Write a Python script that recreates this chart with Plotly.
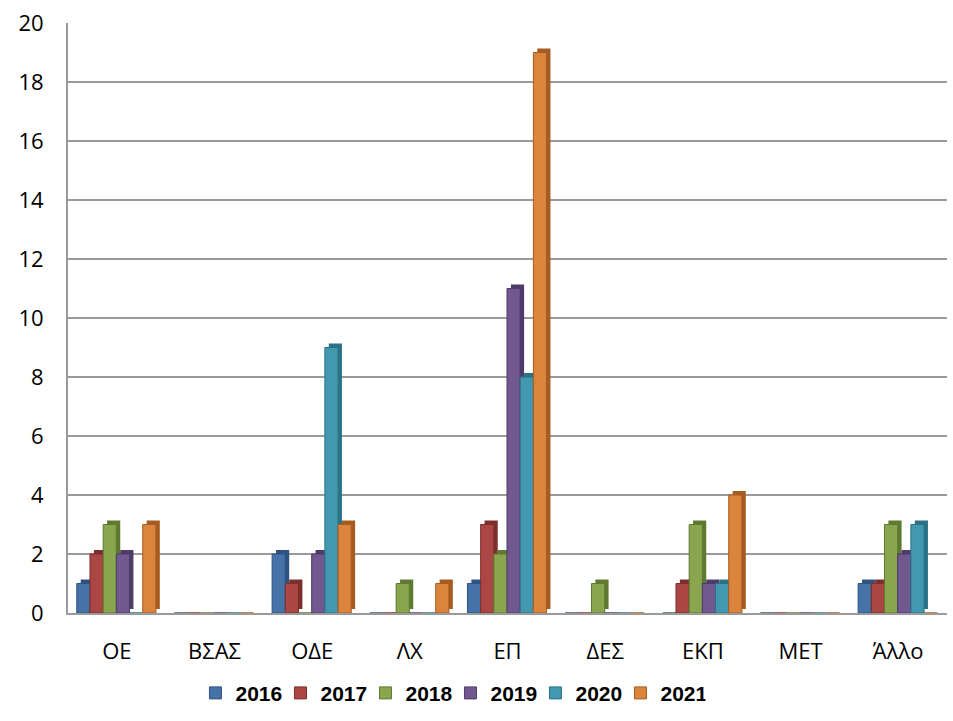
import plotly.graph_objects as go

categories = ["ΟΕ", "ΒΣΑΣ", "ΟΔΕ", "ΛΧ", "ΕΠ", "ΔΕΣ", "ΕΚΠ", "ΜΕΤ", "Άλλο"]
years = ["2016", "2017", "2018", "2019", "2020", "2021"]
v2016 = [1, 0, 2, 0, 1, 0, 0, 0, 1]
v2017 = [2, 0, 1, 0, 3, 0, 1, 0, 1]
v2018 = [3, 0, 0, 1, 2, 1, 3, 0, 3]
v2019 = [2, 0, 2, 0, 11, 0, 1, 0, 2]
v2020 = [0, 0, 9, 0, 8, 0, 1, 0, 3]
v2021 = [3, 0, 3, 1, 19, 0, 4, 0, 0]
y_ticks = [0, 2, 4, 6, 8, 10, 12, 14, 16, 18, 20]
series = [v2016, v2017, v2018, v2019, v2020, v2021]
colors = ["#4572A7", "#AA4643", "#89A54E", "#71588F", "#4198AF", "#DB843D"]
sides = ["#2E5381", "#7D2F2C", "#5E7A31", "#4E3B6A", "#2B7286", "#A65C20"]

xpos = list(range(len(categories)))
bw = 0.135          # bar width (category units)
start = -0.41       # left edge of the first bar relative to category center
depth_x = 0.04      # 3D depth offsets
depth_y = 0.135

fig = go.Figure()
for i, (y, vals, c, s) in enumerate(zip(years, series, colors, sides)):
    off = start + i * bw
    fig.add_trace(go.Bar(
        x=xpos, y=vals, base=depth_y, offset=off + depth_x, width=bw,
        marker=dict(color=s, line=dict(width=0)), showlegend=False,
        hoverinfo="skip",
    ))
    fig.add_trace(go.Bar(
        name=y, x=xpos, y=vals, offset=off, width=bw,
        marker=dict(color=c, line=dict(color=s, width=1)),
    ))

fig.update_layout(
    width=953, height=721,
    paper_bgcolor="white", plot_bgcolor="white",
    barmode="overlay",
    margin=dict(l=68, r=6, t=23, b=108),
    font=dict(family="Open Sans, Liberation Sans, sans-serif", color="black"),
    legend=dict(
        orientation="h", x=0.145, xanchor="left", y=-0.136, yanchor="middle",
        font=dict(size=21, family="Liberation Sans, Arial, sans-serif", weight="bold"),
        itemwidth=30, traceorder="normal", entrywidth=40,
    ),
    xaxis=dict(
        showgrid=False, showline=True, linecolor="#9A9A9A", linewidth=2,
        tickmode="array", tickvals=xpos, ticktext=categories,
        tickfont=dict(size=22), ticks="", ticklabelstandoff=18,
        range=[-0.5, 8.5], automargin=False, zeroline=False,
    ),
    yaxis=dict(
        range=[0, 20], tickmode="array", tickvals=y_ticks,
        showgrid=True, gridcolor="#9A9A9A", gridwidth=2,
        showline=True, linecolor="#9A9A9A", linewidth=2, zeroline=False,
        tickfont=dict(size=22), ticks="", ticklabelstandoff=18, automargin=False,
        ticklabeloverflow="allow",
    ),
)

post = "document.body.style.margin='0';"

fig.write_html("out.html", config={"displayModeBar": False}, post_script=post)
